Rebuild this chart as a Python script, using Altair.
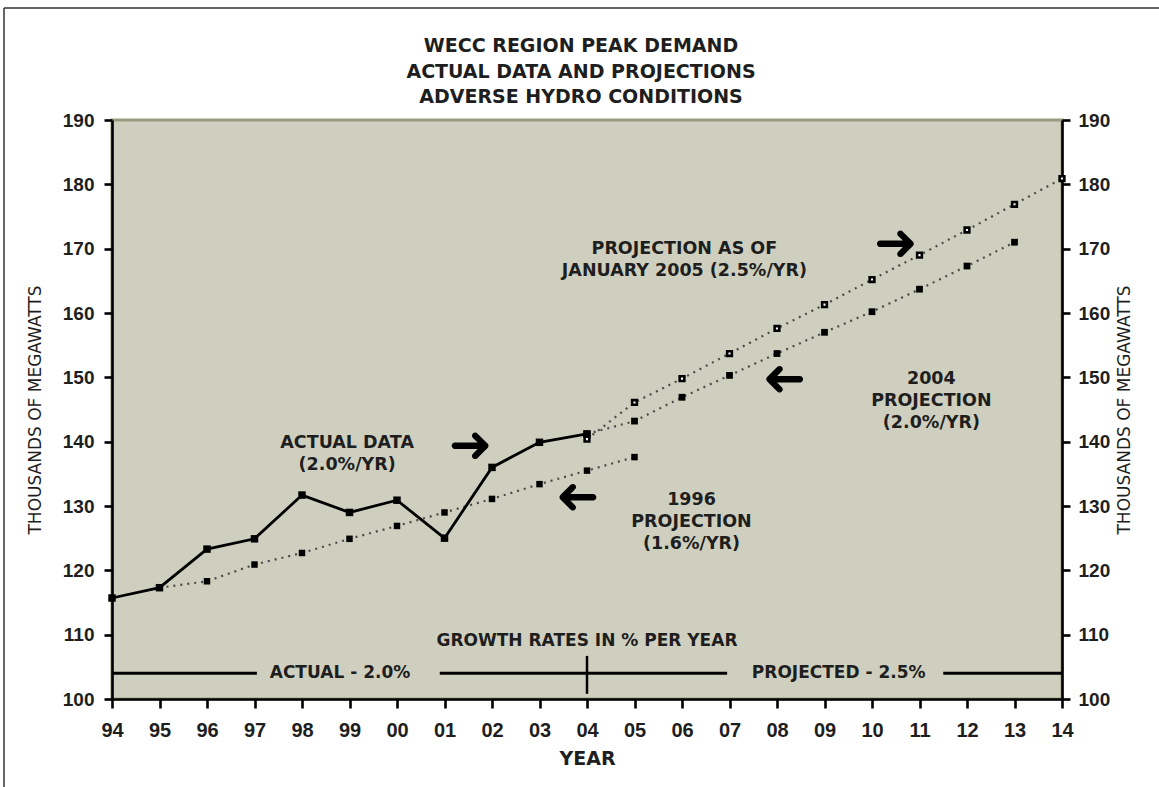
import altair as alt
import pandas as pd

# ---------------- data ----------------
years_actual = [1994, 1995, 1996, 1997, 1998, 1999, 2000, 2001, 2002, 2003, 2004]
actual_demand = [115.7, 117.3, 123.3, 124.9, 131.7, 129.0, 130.9, 125.0, 136.0, 139.9, 141.2]

years_1996 = [1995, 1996, 1997, 1998, 1999, 2000, 2001, 2002, 2003, 2004, 2005]
proj_1996 = [117.3, 118.3, 120.9, 122.7, 124.9, 126.9, 129.0, 131.1, 133.4, 135.5, 137.6]

years_2004 = [2004, 2005, 2006, 2007, 2008, 2009, 2010, 2011, 2012, 2013]
proj_2004 = [141.2, 143.2, 146.9, 150.3, 153.7, 157.0, 160.2, 163.7, 167.3, 171.0]

years_jan2005 = [2004, 2005, 2006, 2007, 2008, 2009, 2010, 2011, 2012, 2013, 2014]
proj_jan2005 = [140.4, 146.1, 149.8, 153.7, 157.6, 161.3, 165.2, 169.0, 172.9, 176.9, 180.9]

# annotation texts (| = line break) and their anchor points in data units
note_text = ["PROJECTION AS OF|JANUARY 2005 (2.5%/YR)",
             "2004|PROJECTION|(2.0%/YR)",
             "ACTUAL DATA|(2.0%/YR)",
             "1996|PROJECTION|(1.6%/YR)"]
note_year = [2006.05, 2011.25, 1998.95, 2006.2]
note_value = [169.9, 149.8, 139.8, 131.0]

arrow_right_year = [2001.55, 2010.5]
arrow_right_value = [139.3, 170.8]
arrow_left_year = [2003.8, 2008.15]
arrow_left_value = [131.4, 149.8]

growth_title = ["GROWTH RATES IN % PER YEAR"]
growth_title_year = [2004.0]
growth_title_value = [109.0]
growth_labels = ["ACTUAL - 2.0%", "PROJECTED - 2.5%"]
growth_label_year = [1998.8, 2009.3]
growth_level = 104.0
growth_seg_start = [1994.0, 2000.9, 2011.5]
growth_seg_end = [1997.05, 2006.95, 2014.0]
growth_mark_year = [2004.0]
growth_mark_low = [100.8]
growth_mark_high = [106.7]

title_lines = ["WECC REGION PEAK DEMAND",
               "ACTUAL DATA AND PROJECTIONS",
               "ADVERSE HYDRO CONDITIONS"]
x_ticks = list(range(1994, 2015))
y_ticks = list(range(100, 191, 10))

# ---------------- tables ----------------
df_actual = pd.DataFrame({"year": years_actual, "demand": actual_demand})
df_1996 = pd.DataFrame({"year": years_1996, "demand": proj_1996})
df_2004 = pd.DataFrame({"year": years_2004, "demand": proj_2004})
df_jan = pd.DataFrame({"year": years_jan2005, "demand": proj_jan2005})
df_notes = pd.DataFrame({"year": note_year, "demand": note_value, "txt": note_text})
df_ar = pd.DataFrame({"year": arrow_right_year, "demand": arrow_right_value})
df_al = pd.DataFrame({"year": arrow_left_year, "demand": arrow_left_value})
df_gt = pd.DataFrame({"year": growth_title_year, "demand": growth_title_value, "txt": growth_title})
df_gl = pd.DataFrame({"year": growth_label_year, "demand": [growth_level] * 2, "txt": growth_labels})
df_gs = pd.DataFrame({"year": growth_seg_start, "year2": growth_seg_end,
                      "demand": [growth_level] * 3})
df_gm = pd.DataFrame({"year": growth_mark_year, "demand": growth_mark_low,
                      "demand2": growth_mark_high})
df_title = pd.DataFrame({"txt": ["|".join(title_lines)]})

# ---------------- scales / axes ----------------
TXT = "#1e1e1e"
xscale = alt.Scale(domain=[1994, 2014], nice=False, zero=False)
yscale = alt.Scale(domain=[100, 190], nice=False, zero=False)

xaxis = alt.Axis(values=x_ticks, format="d", labelExpr="substring(datum.label, 2)",
                 title="YEAR", titleFont="DejaVu Sans", titleFontWeight="bold",
                 titleFontSize=19, titleColor=TXT, titlePadding=9,
                 labelFont="Liberation Sans", labelFontWeight="bold", labelFontSize=20,
                 labelColor=TXT, labelPadding=12, tickSize=9, labelFlush=False)
yaxis_left = alt.Axis(values=y_ticks, orient="left", title="THOUSANDS OF MEGAWATTS",
                      titleFont="DejaVu Sans", titleFontWeight="normal", titleFontSize=17,
                      titleColor=TXT, titlePadding=18,
                      labelFont="Liberation Sans", labelFontWeight="bold", labelFontSize=19,
                      labelColor=TXT, labelPadding=10, tickSize=8)
yaxis_right = alt.Axis(values=y_ticks, orient="right", title="THOUSANDS OF MEGAWATTS",
                       titleFont="DejaVu Sans", titleFontWeight="normal", titleFontSize=17,
                       titleColor=TXT, titlePadding=24, titleAngle=270,
                       labelFont="Liberation Sans", labelFontWeight="bold", labelFontSize=19,
                       labelColor=TXT, labelPadding=8, tickSize=8)


def X(field="year"):
    return alt.X(f"{field}:Q", scale=xscale, axis=xaxis)


def Y(field="demand"):
    return alt.Y(f"{field}:Q", scale=yscale, axis=yaxis_left)


DOT = dict(color="#4a4a4a", strokeDash=[2, 5], strokeWidth=2.2)

l_1996 = alt.Chart(df_1996).mark_line(**DOT).encode(x=X(), y=Y())
p_1996 = alt.Chart(df_1996).mark_square(color="black", size=42, opacity=1).encode(x=X(), y=Y())
l_2004 = alt.Chart(df_2004).mark_line(**DOT).encode(x=X(), y=Y())
p_2004 = alt.Chart(df_2004).mark_square(color="black", size=46, opacity=1).encode(x=X(), y=Y())
l_jan = alt.Chart(df_jan).mark_line(**DOT).encode(x=X(), y=Y())
p_jan = alt.Chart(df_jan).mark_square(fill="white", stroke="black", strokeWidth=2.6,
                                      size=22, opacity=1).encode(x=X(), y=Y())
l_act = alt.Chart(df_actual).mark_line(color="black", strokeWidth=2.8).encode(x=X(), y=Y())
p_act = alt.Chart(df_actual).mark_square(color="black", size=56, opacity=1).encode(x=X(), y=Y())

notes = alt.Chart(df_notes).mark_text(font="DejaVu Sans", fontWeight="bold", fontSize=17.5,
                                      color=TXT, lineBreak="|", lineHeight=22,
                                      baseline="middle").encode(x=X(), y=Y(), text="txt:N")
arr_r = alt.Chart(df_ar).mark_text(text="➜", font="DejaVu Sans", fontSize=52, color="black",
                                   baseline="middle").encode(x=X(), y=Y())
arr_l = alt.Chart(df_al).mark_text(text="➜", font="DejaVu Sans", fontSize=52, color="black",
                                   angle=180, baseline="middle").encode(x=X(), y=Y())

g_title = alt.Chart(df_gt).mark_text(font="DejaVu Sans", fontWeight="bold", fontSize=17,
                                     color=TXT, baseline="middle").encode(x=X(), y=Y(), text="txt:N")
g_labels = alt.Chart(df_gl).mark_text(font="DejaVu Sans", fontWeight="bold", fontSize=17,
                                      color=TXT, baseline="middle").encode(x=X(), y=Y(), text="txt:N")
g_segs = alt.Chart(df_gs).mark_rule(color="black", strokeWidth=3).encode(
    x=X(), x2="year2:Q", y=Y())
g_mark = alt.Chart(df_gm).mark_rule(color="black", strokeWidth=2.5).encode(
    x=X(), y=Y(), y2="demand2:Q")

# chart title, drawn above the plot area (first line centre, following lines below)
title_mark = alt.Chart(df_title).mark_text(
    font="DejaVu Sans", fontWeight="bold", fontSize=19, color=TXT, lineBreak="|",
    lineHeight=25.5, baseline="middle", align="center").encode(
    x=alt.value(469), y=alt.value(-74), text="txt:N")

# outer page frame (decoration)
frame_top = alt.Chart(df_gm).mark_rule(color="#333333", strokeWidth=1.5).encode(
    x=alt.value(-108), x2=alt.value(1050), y=alt.value(-112))
frame_left = alt.Chart(df_gm).mark_rule(color="#333333", strokeWidth=1.5).encode(
    x=alt.value(-108), y=alt.value(-112), y2=alt.value(670))

main = alt.layer(g_segs, g_mark, g_title, g_labels,
                 l_1996, l_2004, l_jan, p_1996, p_2004, l_act, p_act, p_jan,
                 notes, arr_r, arr_l, title_mark, frame_top, frame_left)

right = alt.Chart(df_gm).mark_point(opacity=0).encode(
    y=alt.Y("demand:Q", scale=yscale, axis=yaxis_right))

chart = alt.layer(main, right).resolve_scale(y="independent").properties(
    width=950, height=579,
    padding={"left": 112, "top": 120, "right": 97, "bottom": 88},
    autosize=alt.AutoSizeParams(type="none"),
    background="white",
).configure_view(fill="#CFCFBF", stroke="#9a9a80", strokeWidth=3).configure_axis(
    domainColor="black", domainWidth=2.6, tickColor="black", tickWidth=2.6, grid=False)

chart.save("out.html", embed_options={"renderer": "svg", "actions": False})
